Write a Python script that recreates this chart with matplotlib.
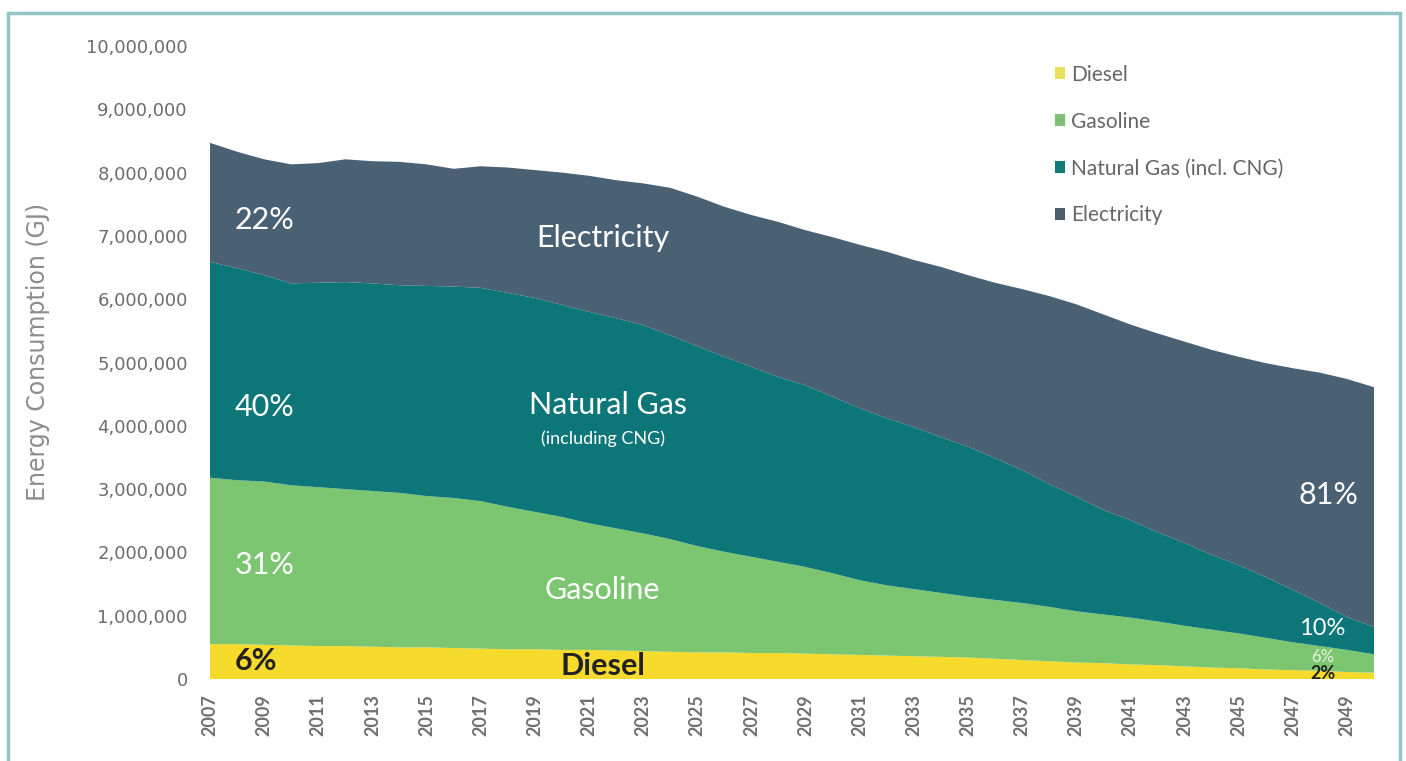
import numpy as np
import matplotlib.pyplot as plt
from matplotlib.patches import Patch, Rectangle
from matplotlib.ticker import FuncFormatter

# Energy consumption by fuel (millions of GJ), 2007-2050
years = np.arange(2007, 2051)

diesel = [0.55, 0.55, 0.54, 0.53, 0.52, 0.52, 0.51, 0.50, 0.50, 0.49,
          0.48, 0.47, 0.47, 0.46, 0.46, 0.45, 0.44, 0.43, 0.42, 0.42,
          0.41, 0.41, 0.40, 0.39, 0.38, 0.37, 0.36, 0.35, 0.34, 0.32,
          0.30, 0.28, 0.26, 0.25, 0.23, 0.22, 0.20, 0.18, 0.17, 0.15,
          0.14, 0.13, 0.11, 0.10]

gasoline = [2.63, 2.59, 2.58, 2.53, 2.51, 2.48, 2.46, 2.44, 2.39, 2.37,
            2.33, 2.25, 2.17, 2.10, 2.00, 1.93, 1.86, 1.78, 1.68, 1.59,
            1.52, 1.44, 1.37, 1.28, 1.18, 1.11, 1.06, 1.01, 0.96, 0.93,
            0.90, 0.86, 0.81, 0.77, 0.74, 0.69, 0.64, 0.60, 0.55, 0.50,
            0.44, 0.39, 0.35, 0.29]

natural_gas = [3.41, 3.35, 3.26, 3.19, 3.23, 3.27, 3.28, 3.28, 3.32, 3.34,
               3.37, 3.38, 3.38, 3.35, 3.34, 3.32, 3.29, 3.22, 3.16, 3.08,
               3.00, 2.92, 2.87, 2.79, 2.72, 2.64, 2.56, 2.46, 2.37, 2.24,
               2.10, 1.94, 1.81, 1.65, 1.54, 1.41, 1.31, 1.18, 1.08, 0.96,
               0.83, 0.68, 0.52, 0.43]

electricity = [1.88, 1.84, 1.83, 1.88, 1.89, 1.94, 1.93, 1.95, 1.92, 1.86,
               1.92, 1.98, 2.02, 2.09, 2.15, 2.18, 2.24, 2.33, 2.36, 2.37,
               2.40, 2.45, 2.45, 2.52, 2.58, 2.63, 2.64, 2.69, 2.71, 2.77,
               2.86, 2.97, 3.04, 3.09, 3.09, 3.14, 3.18, 3.24, 3.29, 3.38,
               3.50, 3.64, 3.76, 3.79]

fuels = ["Diesel", "Gasoline", "Natural Gas (incl. CNG)", "Electricity"]
colors = ["#f6da2c", "#7cc672", "#0d7678", "#4a6174"]
legend_colors = ["#e6e05a", "#7fbf78", "#12797b", "#4d5f6e"]

series = [np.array(s) * 1e6 for s in (diesel, gasoline, natural_gas, electricity)]

plt.rcParams['font.family'] = ['Lato', 'DejaVu Sans']

fig = plt.figure(figsize=(14.06, 7.61), dpi=100)
ax = fig.add_axes([210 / 1406, 1 - 679 / 761, 1164 / 1406, 633 / 761])

ax.stackplot(years, *series, colors=colors, linewidth=0)

ax.set_xlim(2007, 2050)
ax.set_ylim(0, 10_000_000)
ax.set_xticks(np.arange(2007, 2050, 2))
ax.set_yticks(np.arange(0, 10_000_001, 1_000_000))
ax.yaxis.set_major_formatter(FuncFormatter(lambda v, p: f"{int(v):,}"))
ax.tick_params(axis='x', length=0, pad=11, labelrotation=90,
               labelsize=13, labelcolor="#707070")
ax.tick_params(axis='y', length=0, pad=16, labelsize=13, labelcolor="#6c6c6c")
for lab in ax.get_xticklabels():
    lab.set_fontweight('bold')
for lab in ax.get_yticklabels():
    lab.set_family('DejaVu Sans')
for sp in ax.spines.values():
    sp.set_visible(False)

fig.text(38 / 1406, 1 - 352 / 761, "Energy Consumption (GJ)", rotation=90,
         ha='center', va='center', fontsize=17, color="#8c8c8c",
         family='DejaVu Sans')

# labels inside the stacked areas
def label(x, y, s, size=22, color="white", weight='normal'):
    ax.text(x, y, s, ha='center', va='center', fontsize=size,
            color=color, fontweight=weight)

label(2009.0, 7_250_000, "22%")
label(2009.0, 4_300_000, "40%")
label(2009.0, 1_800_000, "31%")
label(2008.7, 280_000, "6%", color="#222222", weight='bold')
label(2021.5, 6_970_000, "Electricity")
label(2021.7, 4_330_000, "Natural Gas")
label(2021.5, 3_800_000, "(including CNG)", size=13)
label(2021.5, 1_400_000, "Gasoline")
label(2021.5, 200_000, "Diesel", color="#222222", weight='bold')
label(2048.3, 2_900_000, "81%")
label(2048.1, 800_000, "10%", size=17)
label(2048.1, 350_000, "6%", size=12, color="#e8f3e0")
label(2048.1, 80_000, "2%", size=13, color="#222222", weight='bold')

handles = [Patch(facecolor=c, edgecolor='none') for c in legend_colors]
ax.legend(handles, fuels, loc='upper left',
          bbox_to_anchor=(1036 / 1406, 1 - 46 / 761),
          bbox_transform=fig.transFigure, frameon=False, fontsize=15,
          labelcolor="#666666", handlelength=0.5, handleheight=0.5,
          handletextpad=0.3, labelspacing=1.29)

# outer frame of the graphic
fig.patches.append(Rectangle((8 / 1406, -0.05), 1392 / 1406, 1.05 - 13 / 761,
                             transform=fig.transFigure, fill=False,
                             edgecolor="#93c4c6", linewidth=2.5))

fig.savefig("out.png", dpi=100)
